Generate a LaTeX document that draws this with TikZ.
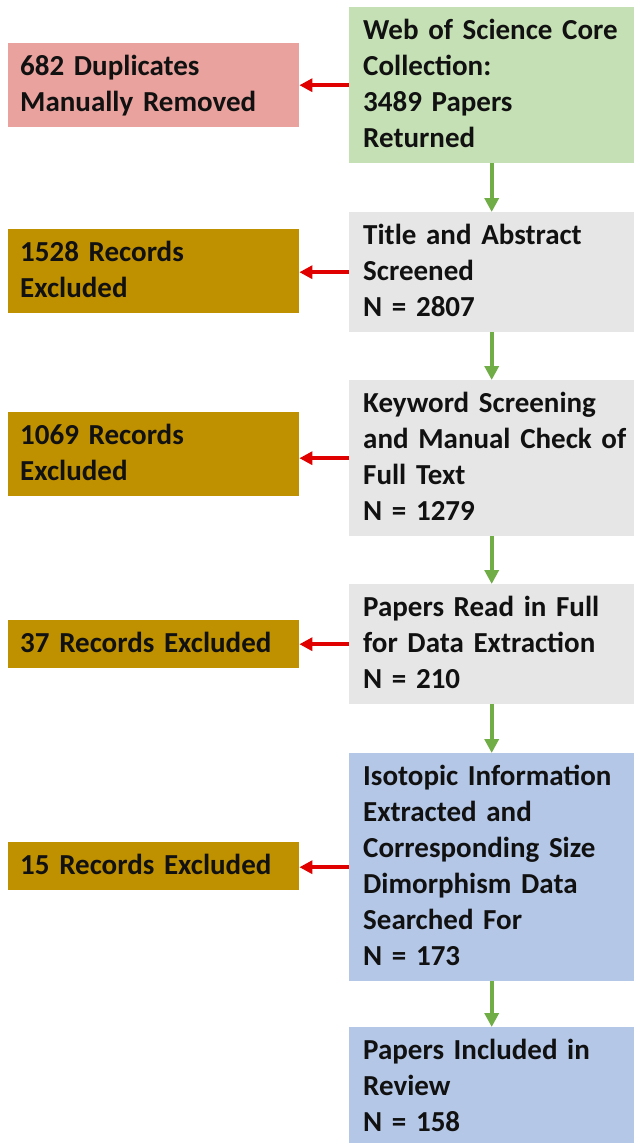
\documentclass[tikz,border=0pt]{standalone}
\usepackage{fontspec}
\setmainfont{Carlito}
\usetikzlibrary{arrows.meta}
\definecolor{boxgreen}{HTML}{C5E0B4}
\definecolor{boxgray}{HTML}{E7E6E6}
\definecolor{boxblue}{HTML}{B4C7E7}
\definecolor{boxpink}{HTML}{E9A29D}
\definecolor{boxgold}{HTML}{BF9000}
\definecolor{arrowgreen}{HTML}{70AD47}
\definecolor{arrowred}{HTML}{E00000}
\definecolor{txt}{HTML}{111111}
\begin{document}
\begin{tikzpicture}[x=1pt,y=-1pt,
  basebox/.style={anchor=north west, inner xsep=0pt, inner ysep=0pt, align=left,
    font=\fontsize{29}{36}\selectfont\bfseries, text=txt, text height=32pt,
    execute at begin node={\leftskip=14pt\relax}},
  rbox/.style={basebox, text width=285pt},
  lbox/.style={basebox, text width=291pt, execute at begin node={\leftskip=12pt\relax}},
  one/.style={text depth=16pt},
  two/.style={text depth=52pt},
  three/.style={text depth=88pt},
  four/.style={text depth=124pt},
  six/.style={text depth=196pt},
  garrow/.style={draw=arrowgreen, line width=4pt, -{Triangle[width=14pt,length=14pt]}},
  rarrow/.style={draw=arrowred, line width=4pt, -{Triangle[width=13pt,length=13pt]}}
]
\useasboundingbox[fill=white] (0,0) rectangle (634,1143);
\node[rbox, fill=boxgreen, four] (b1) at (349,7) {Web of Science Core\\Collection:\\3489 Papers\\Returned};
\node[rbox, fill=boxgray, three] (b2) at (349,212) {Title and Abstract\\Screened\\N = 2807};
\node[rbox, fill=boxgray, four] (b3) at (349,380) {Keyword Screening\\and Manual Check of\\Full Text\\N = 1279};
\node[rbox, fill=boxgray, three] (b4) at (349,584) {Papers Read in Full\\for Data Extraction\\N = 210};
\node[rbox, fill=boxblue, six] (b5) at (349,753) {Isotopic Information\\Extracted and\\Corresponding Size\\Dimorphism Data\\Searched For\\N = 173};
\node[rbox, fill=boxblue, three] (b6) at (349,1027) {Papers Included in\\Review\\N = 158};
\node[lbox, fill=boxpink, two] (l1) at (8,43) {682 Duplicates\\Manually Removed};
\node[lbox, fill=boxgold, two] (l2) at (8,229) {1528 Records\\Excluded};
\node[lbox, fill=boxgold, two] (l3) at (8,412) {1069 Records\\Excluded};
\node[lbox, fill=boxgold, one] (l4) at (8,620) {37 Records Excluded};
\node[lbox, fill=boxgold, one] (l5) at (8,842) {15 Records Excluded};
\draw[garrow] (b1.south) -- (b2.north);
\draw[garrow] (b2.south) -- (b3.north);
\draw[garrow] (b3.south) -- (b4.north);
\draw[garrow] (b4.south) -- (b5.north);
\draw[garrow] (b5.south) -- (b6.north);
\draw[rarrow] (b1.west) -- (b1.west -| l1.east);
\draw[rarrow] (b2.west) -- (b2.west -| l2.east);
\draw[rarrow] (b3.west) -- (b3.west -| l3.east);
\draw[rarrow] (b4.west) -- (b4.west -| l4.east);
\draw[rarrow] (b5.west) -- (b5.west -| l5.east);
\end{tikzpicture}
\end{document}
